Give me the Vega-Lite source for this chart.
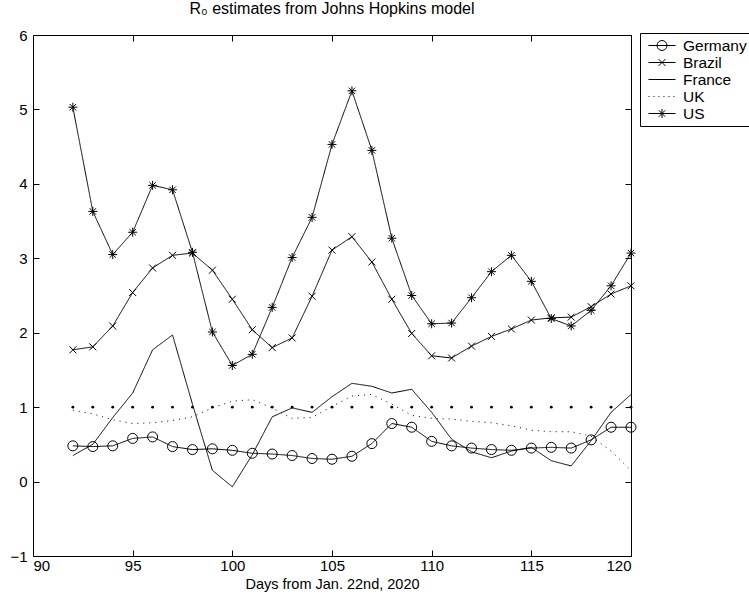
{
  "$schema": "https://vega.github.io/schema/vega-lite/v6.json",
  "autosize": "none",
  "width": 598,
  "height": 521,
  "padding": {"left": 33, "top": 35, "right": 118, "bottom": 41},
  "background": "white",
  "title": {
    "text": "R₀ estimates from Johns Hopkins model",
    "font": "Liberation Sans",
    "fontSize": 16,
    "fontWeight": "normal",
    "color": "black",
    "anchor": "middle",
    "frame": "group",
    "baseline": "alphabetic",
    "offset": 11,
    "dy": 13
  },
  "datasets": {
    "series": [
      {"day": 92, "country": "Germany", "r": 0.48}, {"day": 93, "country": "Germany", "r": 0.47}, {"day": 94, "country": "Germany", "r": 0.48}, {"day": 95, "country": "Germany", "r": 0.58}, {"day": 96, "country": "Germany", "r": 0.60}, {"day": 97, "country": "Germany", "r": 0.47}, {"day": 98, "country": "Germany", "r": 0.43}, {"day": 99, "country": "Germany", "r": 0.44}, {"day": 100, "country": "Germany", "r": 0.42}, {"day": 101, "country": "Germany", "r": 0.38}, {"day": 102, "country": "Germany", "r": 0.37}, {"day": 103, "country": "Germany", "r": 0.35}, {"day": 104, "country": "Germany", "r": 0.31}, {"day": 105, "country": "Germany", "r": 0.30}, {"day": 106, "country": "Germany", "r": 0.34}, {"day": 107, "country": "Germany", "r": 0.51}, {"day": 108, "country": "Germany", "r": 0.78}, {"day": 109, "country": "Germany", "r": 0.73}, {"day": 110, "country": "Germany", "r": 0.54}, {"day": 111, "country": "Germany", "r": 0.48}, {"day": 112, "country": "Germany", "r": 0.45}, {"day": 113, "country": "Germany", "r": 0.43}, {"day": 114, "country": "Germany", "r": 0.42}, {"day": 115, "country": "Germany", "r": 0.45}, {"day": 116, "country": "Germany", "r": 0.46}, {"day": 117, "country": "Germany", "r": 0.45}, {"day": 118, "country": "Germany", "r": 0.56}, {"day": 119, "country": "Germany", "r": 0.73}, {"day": 120, "country": "Germany", "r": 0.73},
      {"day": 92, "country": "Brazil", "r": 1.77}, {"day": 93, "country": "Brazil", "r": 1.81}, {"day": 94, "country": "Brazil", "r": 2.09}, {"day": 95, "country": "Brazil", "r": 2.54}, {"day": 96, "country": "Brazil", "r": 2.87}, {"day": 97, "country": "Brazil", "r": 3.04}, {"day": 98, "country": "Brazil", "r": 3.07}, {"day": 99, "country": "Brazil", "r": 2.84}, {"day": 100, "country": "Brazil", "r": 2.45}, {"day": 101, "country": "Brazil", "r": 2.04}, {"day": 102, "country": "Brazil", "r": 1.80}, {"day": 103, "country": "Brazil", "r": 1.93}, {"day": 104, "country": "Brazil", "r": 2.49}, {"day": 105, "country": "Brazil", "r": 3.11}, {"day": 106, "country": "Brazil", "r": 3.29}, {"day": 107, "country": "Brazil", "r": 2.95}, {"day": 108, "country": "Brazil", "r": 2.45}, {"day": 109, "country": "Brazil", "r": 1.99}, {"day": 110, "country": "Brazil", "r": 1.69}, {"day": 111, "country": "Brazil", "r": 1.66}, {"day": 112, "country": "Brazil", "r": 1.82}, {"day": 113, "country": "Brazil", "r": 1.95}, {"day": 114, "country": "Brazil", "r": 2.05}, {"day": 115, "country": "Brazil", "r": 2.17}, {"day": 116, "country": "Brazil", "r": 2.20}, {"day": 117, "country": "Brazil", "r": 2.21}, {"day": 118, "country": "Brazil", "r": 2.35}, {"day": 119, "country": "Brazil", "r": 2.52}, {"day": 120, "country": "Brazil", "r": 2.63},
      {"day": 92, "country": "France", "r": 0.35}, {"day": 93, "country": "France", "r": 0.50}, {"day": 94, "country": "France", "r": 0.86}, {"day": 95, "country": "France", "r": 1.19}, {"day": 96, "country": "France", "r": 1.77}, {"day": 97, "country": "France", "r": 1.97}, {"day": 98, "country": "France", "r": 1.04}, {"day": 99, "country": "France", "r": 0.15}, {"day": 100, "country": "France", "r": -0.07}, {"day": 101, "country": "France", "r": 0.36}, {"day": 102, "country": "France", "r": 0.87}, {"day": 103, "country": "France", "r": 0.99}, {"day": 104, "country": "France", "r": 0.93}, {"day": 105, "country": "France", "r": 1.14}, {"day": 106, "country": "France", "r": 1.32}, {"day": 107, "country": "France", "r": 1.28}, {"day": 108, "country": "France", "r": 1.19}, {"day": 109, "country": "France", "r": 1.24}, {"day": 110, "country": "France", "r": 0.93}, {"day": 111, "country": "France", "r": 0.57}, {"day": 112, "country": "France", "r": 0.40}, {"day": 113, "country": "France", "r": 0.32}, {"day": 114, "country": "France", "r": 0.41}, {"day": 115, "country": "France", "r": 0.46}, {"day": 116, "country": "France", "r": 0.28}, {"day": 117, "country": "France", "r": 0.21}, {"day": 118, "country": "France", "r": 0.55}, {"day": 119, "country": "France", "r": 0.93}, {"day": 120, "country": "France", "r": 1.17},
      {"day": 92, "country": "UK", "r": 0.96}, {"day": 93, "country": "UK", "r": 0.91}, {"day": 94, "country": "UK", "r": 0.83}, {"day": 95, "country": "UK", "r": 0.78}, {"day": 96, "country": "UK", "r": 0.79}, {"day": 97, "country": "UK", "r": 0.82}, {"day": 98, "country": "UK", "r": 0.87}, {"day": 99, "country": "UK", "r": 0.99}, {"day": 100, "country": "UK", "r": 1.08}, {"day": 101, "country": "UK", "r": 1.10}, {"day": 102, "country": "UK", "r": 0.99}, {"day": 103, "country": "UK", "r": 0.85}, {"day": 104, "country": "UK", "r": 0.86}, {"day": 105, "country": "UK", "r": 1.01}, {"day": 106, "country": "UK", "r": 1.15}, {"day": 107, "country": "UK", "r": 1.17}, {"day": 108, "country": "UK", "r": 1.04}, {"day": 109, "country": "UK", "r": 0.89}, {"day": 110, "country": "UK", "r": 0.85}, {"day": 111, "country": "UK", "r": 0.84}, {"day": 112, "country": "UK", "r": 0.81}, {"day": 113, "country": "UK", "r": 0.79}, {"day": 114, "country": "UK", "r": 0.75}, {"day": 115, "country": "UK", "r": 0.69}, {"day": 116, "country": "UK", "r": 0.67}, {"day": 117, "country": "UK", "r": 0.67}, {"day": 118, "country": "UK", "r": 0.61}, {"day": 119, "country": "UK", "r": 0.41}, {"day": 120, "country": "UK", "r": 0.15},
      {"day": 92, "country": "US", "r": 5.03}, {"day": 93, "country": "US", "r": 3.63}, {"day": 94, "country": "US", "r": 3.05}, {"day": 95, "country": "US", "r": 3.35}, {"day": 96, "country": "US", "r": 3.98}, {"day": 97, "country": "US", "r": 3.92}, {"day": 98, "country": "US", "r": 3.08}, {"day": 99, "country": "US", "r": 2.01}, {"day": 100, "country": "US", "r": 1.56}, {"day": 101, "country": "US", "r": 1.71}, {"day": 102, "country": "US", "r": 2.34}, {"day": 103, "country": "US", "r": 3.01}, {"day": 104, "country": "US", "r": 3.55}, {"day": 105, "country": "US", "r": 4.53}, {"day": 106, "country": "US", "r": 5.25}, {"day": 107, "country": "US", "r": 4.45}, {"day": 108, "country": "US", "r": 3.27}, {"day": 109, "country": "US", "r": 2.50}, {"day": 110, "country": "US", "r": 2.12}, {"day": 111, "country": "US", "r": 2.13}, {"day": 112, "country": "US", "r": 2.47}, {"day": 113, "country": "US", "r": 2.82}, {"day": 114, "country": "US", "r": 3.04}, {"day": 115, "country": "US", "r": 2.69}, {"day": 116, "country": "US", "r": 2.19}, {"day": 117, "country": "US", "r": 2.09}, {"day": 118, "country": "US", "r": 2.30}, {"day": 119, "country": "US", "r": 2.63}, {"day": 120, "country": "US", "r": 3.07}
    ],
    "threshold": [
      {"day": 92, "r": 1}, {"day": 93, "r": 1}, {"day": 94, "r": 1}, {"day": 95, "r": 1}, {"day": 96, "r": 1}, {"day": 97, "r": 1}, {"day": 98, "r": 1}, {"day": 99, "r": 1}, {"day": 100, "r": 1}, {"day": 101, "r": 1}, {"day": 102, "r": 1}, {"day": 103, "r": 1}, {"day": 104, "r": 1}, {"day": 105, "r": 1}, {"day": 106, "r": 1}, {"day": 107, "r": 1}, {"day": 108, "r": 1}, {"day": 109, "r": 1}, {"day": 110, "r": 1}, {"day": 111, "r": 1}, {"day": 112, "r": 1}, {"day": 113, "r": 1}, {"day": 114, "r": 1}, {"day": 115, "r": 1}, {"day": 116, "r": 1}, {"day": 117, "r": 1}, {"day": 118, "r": 1}, {"day": 119, "r": 1}, {"day": 120, "r": 1}
    ]
  },
  "resolve": {"axis": {"x": "independent", "y": "independent"}, "scale": {"shape": "independent"}},
  "layer": [
    {
      "data": {"name": "series"},
      "mark": {"type": "line", "color": "black", "strokeWidth": 1},
      "encoding": {
        "x": {"field": "day", "type": "quantitative", "scale": {"domain": [90, 120], "nice": false, "zero": false},
          "axis": {"orient": "bottom", "values": [90, 95, 100, 105, 110, 115, 120], "title": "Days from Jan. 22nd, 2020", "grid": false, "domain": false,
            "tickSize": -6, "tickColor": "black", "labelPadding": 8, "labelFont": "Liberation Sans", "labelFontSize": 15, "labelColor": "black",
            "titleFont": "Liberation Sans", "titleFontSize": 14.5, "titleFontWeight": "normal", "titleColor": "black", "titlePadding": 4}},
        "y": {"field": "r", "type": "quantitative", "scale": {"domain": [-1, 6], "nice": false, "zero": false},
          "axis": {"orient": "left", "values": [-1, 0, 1, 2, 3, 4, 5, 6], "title": null, "grid": false, "domain": false,
            "tickSize": -6, "tickColor": "black", "labelPadding": 12, "labelFont": "Liberation Sans", "labelFontSize": 15, "labelColor": "black"}},
        "detail": {"field": "country"},
        "strokeDash": {"field": "country", "type": "nominal",
          "scale": {"domain": ["Germany", "Brazil", "France", "UK", "US"], "range": [[1, 0], [1, 0], [1, 0], [1, 5], [1, 0]]},
          "legend": null},
        "order": {"field": "day"}
      }
    },
    {
      "data": {"name": "series"},
      "transform": [{"filter": {"field": "country", "oneOf": ["Germany", "Brazil", "US"]}}],
      "mark": {"type": "point", "filled": false, "color": "black", "strokeWidth": 1, "size": 100, "opacity": 1},
      "encoding": {
        "x": {"field": "day", "type": "quantitative", "scale": {"domain": [90, 120], "nice": false, "zero": false}, "axis": null},
        "y": {"field": "r", "type": "quantitative", "scale": {"domain": [-1, 6], "nice": false, "zero": false}, "axis": null},
        "shape": {"field": "country", "type": "nominal",
          "scale": {"domain": ["Germany", "Brazil", "US"], "range": ["circle", "M-0.7,-0.7L0.7,0.7M-0.7,0.7L0.7,-0.7", "M-0.9,0L0.9,0M0,-0.9L0,0.9M-0.64,-0.64L0.64,0.64M-0.64,0.64L0.64,-0.64"]},
          "legend": null}
      }
    },
    {
      "data": {"name": "threshold"},
      "mark": {"type": "point", "filled": true, "color": "black", "shape": "circle", "size": 8, "opacity": 1},
      "encoding": {
        "x": {"field": "day", "type": "quantitative", "scale": {"domain": [90, 120], "nice": false, "zero": false},
          "axis": {"orient": "top", "values": [90, 95, 100, 105, 110, 115, 120], "labels": false, "title": null, "grid": false, "domain": false, "tickSize": -6, "tickColor": "black"}},
        "y": {"field": "r", "type": "quantitative", "scale": {"domain": [-1, 6], "nice": false, "zero": false},
          "axis": {"orient": "right", "values": [-1, 0, 1, 2, 3, 4, 5, 6], "labels": false, "title": null, "grid": false, "domain": false, "tickSize": -6, "tickColor": "black"}}
      }
    },
    {
      "data": {"name": "series"},
      "mark": {"type": "point", "filled": false, "color": "black", "opacity": 0},
      "encoding": {
        "x": {"field": "day", "type": "quantitative", "scale": {"domain": [90, 120], "nice": false, "zero": false}, "axis": null},
        "y": {"field": "r", "type": "quantitative", "scale": {"domain": [-1, 6], "nice": false, "zero": false}, "axis": null},
        "shape": {"field": "country", "type": "nominal",
          "scale": {"domain": ["Germany", "Brazil", "France", "UK", "US"],
            "range": [
              "M-1,0L1,0M-0.37,0A0.37,0.37 0 1,0 0.37,0A0.37,0.37 0 1,0 -0.37,0",
              "M-1,0L1,0M-0.26,-0.26L0.26,0.26M-0.26,0.26L0.26,-0.26",
              "M-1,0L1,0",
              "M-1,0L-0.93,0M-0.63,0L-0.56,0M-0.26,0L-0.19,0M0.11,0L0.18,0M0.48,0L0.55,0M0.85,0L0.92,0",
              "M-1,0L1,0M-0.33,0L0.33,0M0,-0.33L0,0.33M-0.24,-0.24L0.24,0.24M-0.24,0.24L0.24,-0.24"
            ]},
          "legend": {
            "title": null, "orient": "none", "legendX": 607, "legendY": -2,
            "padding": 4, "strokeColor": "black", "fillColor": "white", "cornerRadius": 0,
            "clipHeight": 17, "rowPadding": 0, "symbolOffset": 4, "labelOffset": 7,
            "symbolSize": 729, "symbolStrokeWidth": 1, "symbolStrokeColor": "black", "symbolFillColor": "transparent", "symbolOpacity": 1,
            "labelFont": "Liberation Sans", "labelFontSize": 15.5, "labelColor": "black", "labelLimit": 200
          }
        }
      }
    }
  ],
  "config": {
    "view": {"stroke": "black", "strokeWidth": 1},
    "axis": {"labelFont": "Liberation Sans"}
  }
}
